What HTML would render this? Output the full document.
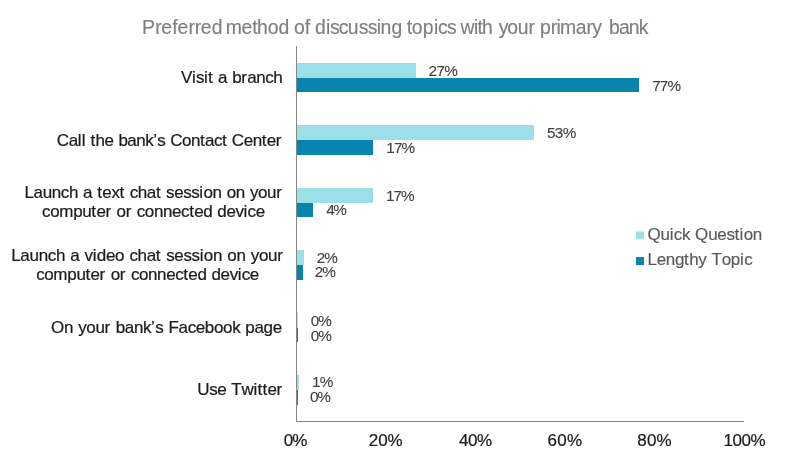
<!DOCTYPE html>
<html>
<head>
<meta charset="utf-8">
<title>Preferred method of discussing topics with your primary bank</title>
<style>
html,body{margin:0;padding:0;background:#fff;}
body{width:791px;height:453px;overflow:hidden;}
svg{display:block;}
text{font-family:"Liberation Sans",Arial,sans-serif;white-space:pre;}
.title{font-size:19.4px;fill:#7f7f7f;stroke:#7f7f7f;stroke-width:0.15px;}
.cat{font-size:17px;fill:#1c1c1c;stroke:#1c1c1c;stroke-width:0.22px;}
.ax{font-size:17px;fill:#1c1c1c;stroke:#1c1c1c;stroke-width:0.22px;}
.dl{font-size:15.3px;fill:#404040;stroke:#404040;stroke-width:0.1px;}
.lg{font-size:17px;fill:#595959;stroke:#595959;stroke-width:0.15px;}
</style>
</head>
<body>
<svg width="791" height="453" viewBox="0 0 791 453">
<rect width="791" height="453" fill="#ffffff"/>
<g shape-rendering="crispEdges">
<rect x="297" y="63" width="119" height="15" fill="#9be0e9"/>
<rect x="297" y="78" width="342" height="14" fill="#0885ad"/>
<rect x="297" y="125" width="237" height="14.7" fill="#9be0e9"/>
<rect x="297" y="139.7" width="76" height="14.8" fill="#0885ad"/>
<rect x="297" y="188" width="76" height="14.5" fill="#9be0e9"/>
<rect x="297" y="202.5" width="15.7" height="14" fill="#0885ad"/>
<rect x="297" y="250" width="7" height="15" fill="#9be0e9"/>
<rect x="297" y="265" width="6" height="15" fill="#0885ad"/>
<rect x="297" y="312" width="1" height="15.5" fill="#9be0e9"/>
<rect x="297" y="327.5" width="1" height="14" fill="#0885ad"/>
<rect x="297" y="374.5" width="2" height="15" fill="#9be0e9"/>
<rect x="297" y="389.5" width="1" height="15" fill="#0885ad"/>
</g>
<g shape-rendering="crispEdges" fill="#868686">
<rect x="296" y="46" width="1" height="376"/>
<rect x="296" y="421" width="448" height="1"/>
</g>
<text id="title" class="title" x="142.04 155.14 161.24 172.34 177.43 188.53 194.63 200.73 211.82 222.82 225.74 241.52 252.29 257.07 267.85 278.62 289.62 294.1 304.77 309.77 315 325.95 329.9 338.84 347.79 358.74 367.68 376.63 380.58 391.52 402.52 406.71 411.77 422.82 433.88 437.93 446.99 455.99 460.53 474 477.47 481.93 492.93 498.75 507.31 517.86 528.42 534.42 539.98 550.69 556.4 560.11 575.82 586.53 592.24 601.24 609.08 618.94 628.81 638.67" y="33.7">Preferred method of discussing topics with your primary bank</text>
<text id="visit" class="cat" x="181.03 192.04 196.05 204.07 208.08 213.09 218.11 227.12 232.14 241.15 247.16 256.18 265.19 273.2" y="82.9">Visit a branch</text>
<text id="call" class="cat" x="56.74 68.7 77.66 81.63 85.59 90.55 95.52 104.48 113.45 118.41 127.37 136.34 145.3 153.26 157.23 165.19 170.15 182.12 191.08 200.05 205.01 213.97 221.94 226.9 231.86 243.83 252.79 261.75 266.72 275.68" y="145.7">Call the bank’s Contact Center</text>
<text id="l3a" class="cat" x="24.51 33.59 42.67 51.75 60.83 68.91 77.99 83.07 92.15 97.24 102.32 111.4 119.48 124.56 129.64 137.72 146.8 155.88 160.97 166.05 174.13 183.21 191.29 199.37 203.45 212.53 221.61 226.7 235.78 244.86 249.94 258.02 267.1 276.18" y="197.8">Launch a text chat session on your</text>
<text id="l3b" class="cat" x="42.08 50.14 59.19 73.25 82.31 91.37 96.43 105.49 111.55 116.6 125.66 131.72 136.78 144.84 153.9 162.95 172.01 181.07 189.13 194.19 203.25 212.3 217.36 226.42 235.48 243.54 247.6 255.66" y="216.5">computer or connected device</text>
<text id="l4a" class="cat" x="11.21 20.35 29.5 38.64 47.79 55.94 65.08 70.23 79.38 84.52 92.67 96.82 105.96 115.11 124.25 129.4 137.55 146.69 155.84 160.99 166.13 174.28 183.43 191.57 199.72 203.86 213.01 222.16 227.3 236.45 245.6 250.74 258.89 268.04 277.18" y="260.5">Launch a video chat session on your</text>
<text id="l4b" class="cat" x="36.18 44.24 53.3 67.36 76.43 85.49 90.55 99.61 105.67 110.74 119.8 125.86 130.92 138.99 148.05 157.11 166.17 175.23 183.3 188.36 197.42 206.48 211.54 220.61 229.67 237.73 241.79 249.86" y="279.7">computer or connected device</text>
<text id="fb" class="cat" x="50.89 64 73.1 78.2 86.3 95.41 104.51 110.61 115.71 124.82 133.92 143.02 151.12 155.22 163.33 168.43 178.53 187.63 195.74 204.84 213.94 223.04 232.14 240.25 245.35 254.45 263.55 272.66" y="332.7">On your bank’s Facebook page</text>
<text id="tw" class="cat" x="197.29 209.31 217.33 226.35 231.37 241.39 253.4 257.42 262.44 267.46 276.48" y="394.8">Use Twitter</text>
<text id="d27" class="dl" x="428.55 436.44 444.33" y="76.0">27%</text>
<text id="d77" class="dl" x="652.13 659.78 667.43" y="90.8">77%</text>
<text id="d53" class="dl" x="546.9 554.77 562.63" y="137.5">53%</text>
<text id="d17a" class="dl" x="386.36 393.9 401.43" y="152.6">17%</text>
<text id="d17b" class="dl" x="386.06 393.55 401.03" y="200.5">17%</text>
<text id="d4" class="dl" x="326.16 333.23" y="215.3">4%</text>
<text id="d2a" class="dl" x="316.75 324.23" y="262.5">2%</text>
<text id="d2b" class="dl" x="314.65 322.23" y="277.4">2%</text>
<text id="d0a" class="dl" x="310.81 318.23" y="325.7">0%</text>
<text id="d0b" class="dl" x="310.81 318.23" y="340.7">0%</text>
<text id="d1" class="dl" x="312.06 319.63" y="387.2">1%</text>
<text id="d0c" class="dl" x="309.91 317.23" y="402.4">0%</text>
<text id="ax0" class="ax" x="283.64 292.21" y="445.9">0%</text>
<text id="ax20" class="ax" x="368.85 378.13 387.41" y="445.9">20%</text>
<text id="ax40" class="ax" x="459.01 468.06 477.11" y="445.9">40%</text>
<text id="ax60" class="ax" x="547.44 557.27 567.11" y="445.9">60%</text>
<text id="ax80" class="ax" x="637.26 646.88 656.51" y="445.9">80%</text>
<text id="ax100" class="ax" x="723.41 732.41 741.41 750.41" y="445.9">100%</text>
<text id="lgq" class="lg" x="647.49 660.6 669.7 673.8 681.9 690 695.1 708.2 717.3 726.4 734.5 739.6 743.7 752.8" y="239.6">Quick Question</text>
<text id="lgl" class="lg" x="647.51 656.64 665.78 674.92 684.05 689.19 698.33 706.46 711.6 721.74 730.87 740.01 744.15" y="265.4">Lengthy Topic</text>
<rect x="636" y="231.5" width="8" height="7.8" fill="#9be0e9"/>
<rect x="636" y="257" width="8" height="8" fill="#0885ad" shape-rendering="crispEdges"/>
</svg>
</body>
</html>
